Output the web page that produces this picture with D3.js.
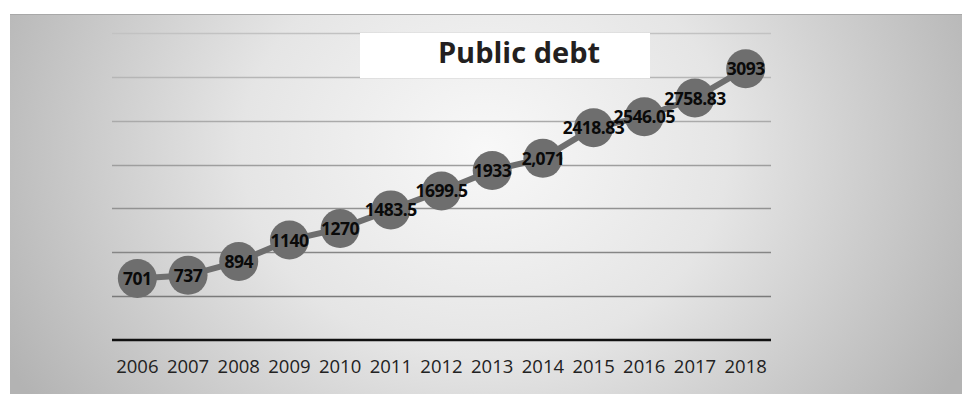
<!DOCTYPE html>
<html><head><meta charset="utf-8">
<script src="https://cdn.jsdelivr.net/npm/d3@7"></script>
<style>html,body{margin:0;padding:0;background:#fff;}svg{display:block;}</style>
</head><body>
<svg id="c" width="962" height="394"></svg>
<script>
const years = ["2006","2007","2008","2009","2010","2011","2012","2013","2014","2015","2016","2017","2018"];
const debt = [701, 737, 894, 1140, 1270, 1483.5, 1699.5, 1933, 2071, 2418.83, 2546.05, 2758.83, 3093];
const debtLabels = ["701","737","894","1140","1270","1483.5","1699.5","1933","2,071","2418.83","2546.05","2758.83","3093"];
const gridTicks = [500, 1000, 1500, 2000, 2500, 3000, 3500];
const title = "Public debt";

const svg = d3.select("#c");
const defs = svg.append("defs");
const rg = defs.append("radialGradient").attr("id","bg").attr("gradientUnits","userSpaceOnUse")
  .attr("cx",485).attr("cy",150).attr("r",540)
  .attr("gradientTransform","translate(485,150) scale(1,0.85) translate(-485,-150)");
rg.append("stop").attr("offset",0).attr("stop-color","#f8f8f8");
rg.append("stop").attr("offset",0.45).attr("stop-color","#e5e5e5");
rg.append("stop").attr("offset",1).attr("stop-color","#b3b3b3");

svg.append("rect").attr("x",10).attr("y",14).attr("width",952).attr("height",380).attr("fill","url(#bg)");
svg.append("line").attr("x1",10).attr("x2",962).attr("y1",14.5).attr("y2",14.5).attr("stroke","#a8a8a8").attr("stroke-width",1);

const x = d3.scaleBand().domain(years).range([112, 771]);
const cx = d => x(d) + x.bandwidth()/2;
const y = d3.scaleLinear().domain([0, 3500]).range([340, 33]);
const gridColor = d3.scaleLinear().domain([500, 3500]).range(["#7a7a7a", "#c2c2c2"]);

svg.append("g").selectAll("line").data(gridTicks).join("line")
  .attr("x1",112).attr("x2",771)
  .attr("y1",d=>Math.round(y(d))+0.5).attr("y2",d=>Math.round(y(d))+0.5)
  .attr("stroke",d=>gridColor(d)).attr("stroke-width",1.6);

// baseline axis
const xAxis = d3.axisBottom(x).tickSize(0).tickPadding(0);
const ax = svg.append("g").attr("transform","translate(0,340)").call(xAxis);
ax.select(".domain").attr("stroke","#111").attr("stroke-width",2.6).attr("d","M112,0H771");
ax.selectAll("text").attr("font-family","'Open Sans', sans-serif").attr("font-size",18.5)
  .attr("fill","#222").attr("dy",null).attr("y",33).attr("dominant-baseline","auto");

// title box
svg.append("rect").attr("x",360).attr("y",33).attr("width",290).attr("height",45).attr("fill","#fff");
svg.append("text").attr("x",519).attr("y",63).attr("text-anchor","middle")
  .attr("font-family","'Open Sans', sans-serif").attr("font-weight",700).attr("font-size",29)
  .attr("fill","#231f20").text(title);

const line = d3.line().x((d,i)=>cx(years[i])).y(d=>y(d));
svg.append("path").datum(debt).attr("d",line).attr("fill","none").attr("stroke","#6e6e6e").attr("stroke-width",6);

svg.append("g").selectAll("circle").data(debt).join("circle")
  .attr("cx",(d,i)=>cx(years[i])).attr("cy",d=>y(d)).attr("r",19.5).attr("fill","#6e6e6e");

svg.append("g").selectAll("text").data(debt).join("text")
  .attr("x",(d,i)=>cx(years[i])).attr("y",d=>y(d)+6.5).attr("text-anchor","middle")
  .attr("font-family","'Open Sans', sans-serif").attr("font-weight",700).attr("font-size",17.5)
  .attr("letter-spacing",-0.5)
  .attr("fill","#0a0a0a").text((d,i)=>debtLabels[i]);
</script>
</body></html>
